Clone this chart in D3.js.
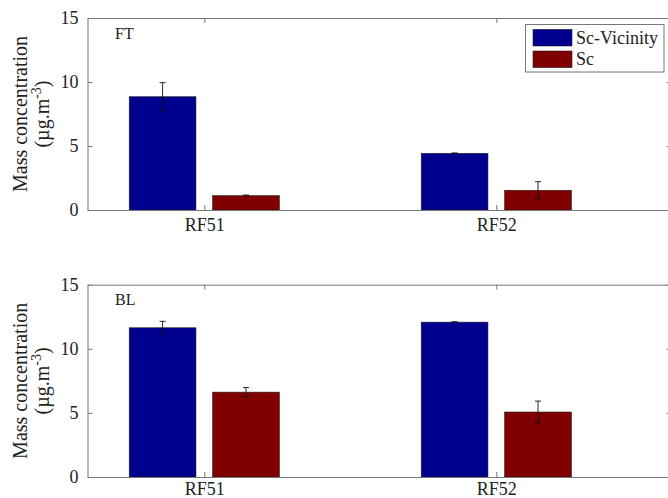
<!DOCTYPE html>
<html><head><meta charset="utf-8">
<script src="https://cdn.jsdelivr.net/npm/d3@7"></script>
<style>
html,body{margin:0;padding:0;background:#fff;}
svg text{font-family:"Liberation Serif","Times New Roman",serif;fill:#222;}
</style></head>
<body>
<svg id="chart" width="668" height="498"></svg>
<script>
const categories = ["RF51", "RF52"];
const series = ["Sc-Vicinity", "Sc"];
const panels = ["FT", "BL"];
const ftVicinity = [8.85, 4.43];
const ftSc = [1.12, 1.54];
const ftVicinityErr = [1.1, 0.03];
const ftScErr = [0.05, 0.67];
const blVicinity = [11.64, 12.08];
const blSc = [6.62, 5.07];
const blVicinityErr = [0.5, 0.03];
const blScErr = [0.35, 0.85];
const yTicks = [0, 5, 10, 15];
const colors = ["#00008f", "#800000"];

const panelData = [
  {name: panels[0], vals: [ftVicinity, ftSc], errs: [ftVicinityErr, ftScErr]},
  {name: panels[1], vals: [blVicinity, blSc], errs: [blVicinityErr, blScErr]}
];

const FONT = '"Liberation Serif","Times New Roman",serif';
const svg = d3.select("#chart");
const x = d3.scaleLinear().domain([0.6, 2.6]).range([87.5, 671.5]);
const groupW = series.length / (series.length + 1.5);
const xs = d3.scaleBand().domain(series).range([-groupW / 2, groupW / 2]).paddingInner(0.2).paddingOuter(0.1);

const layouts = [{top: 18, bottom: 210, pad: 8}, {top: 284.7, bottom: 477, pad: 5}];
const axisColor = "#777";

panelData.forEach((p, pi) => {
  const L = layouts[pi];
  const y = d3.scaleLinear().domain([0, 15]).range([L.bottom, L.top]);
  const g = svg.append("g");
  const left = x.range()[0], right = x.range()[1];

  series.forEach((s, si) => {
    categories.forEach((c, ci) => {
      const cx = ci + 1;
      const x0 = x(cx + xs(s)), x1 = x(cx + xs(s) + xs.bandwidth());
      const v = p.vals[si][ci];
      g.append("rect")
        .attr("x", x0).attr("y", y(v))
        .attr("width", x1 - x0).attr("height", y(0) - y(v))
        .attr("fill", colors[si]).attr("stroke", "#222").attr("stroke-width", 0.6);
    });
  });
  series.forEach((s, si) => {
    categories.forEach((c, ci) => {
      const cx = ci + 1 + xs(s) + xs.bandwidth() / 2;
      const px = x(cx);
      const v = p.vals[si][ci], e = p.errs[si][ci];
      const ey = g.append("g").attr("stroke", "#111").attr("stroke-width", 0.9);
      ey.append("line").attr("x1", px).attr("x2", px).attr("y1", y(v - e)).attr("y2", y(v + e));
      ey.append("line").attr("x1", px - 3).attr("x2", px + 3).attr("y1", y(v - e)).attr("y2", y(v - e));
      ey.append("line").attr("x1", px - 3).attr("x2", px + 3).attr("y1", y(v + e)).attr("y2", y(v + e));
    });
  });

  const yAxisL = d3.axisLeft(y).tickValues(yTicks).tickSizeInner(-5).tickSizeOuter(0).tickPadding(9);
  const gl = g.append("g").attr("transform", `translate(${left},0)`).call(yAxisL);
  gl.attr("font-family", FONT);
  gl.selectAll("text").style("font-size", "18px").attr("fill", "#222");
  const yAxisR = d3.axisRight(y).tickValues(yTicks).tickSizeInner(-5).tickSizeOuter(0).tickFormat("");
  g.append("g").attr("transform", `translate(${right},0)`).call(yAxisR);
  const xAxisB = d3.axisBottom(x).tickValues([1, 2]).tickFormat((d) => categories[d - 1]).tickSizeInner(-5).tickSizeOuter(0).tickPadding(L.pad);
  const gb = g.append("g").attr("transform", `translate(0,${L.bottom})`).call(xAxisB);
  gb.attr("font-family", FONT);
  gb.selectAll("text").style("font-size", "18px").attr("fill", "#222");
  const xAxisT = d3.axisTop(x).tickValues([1, 2]).tickFormat("").tickSizeInner(-5).tickSizeOuter(0);
  g.append("g").attr("transform", `translate(0,${L.top})`).call(xAxisT);
  g.selectAll(".domain, .tick line").attr("stroke", axisColor).attr("stroke-width", 1);

  g.append("text").attr("x", 115).attr("y", L.top + 20.6).style("font-size", "16px").text(p.name);

  const mid = (L.top + L.bottom) / 2;
  g.append("text").attr("transform", `translate(27,${mid}) rotate(-90)`)
    .attr("text-anchor", "middle").style("font-size", "20px").text("Mass concentration");
  const t2 = g.append("text").attr("transform", `translate(49,${mid}) rotate(-90)`)
    .attr("text-anchor", "middle").style("font-size", "20px");
  t2.append("tspan").text("(µg.m");
  t2.append("tspan").attr("dy", -8).style("font-size", "14px").text("-3");
  t2.append("tspan").attr("dy", 8).text(")");
});

const lg = svg.append("g");
lg.append("rect").attr("x", 525.5).attr("y", 24.5).attr("width", 138.5).attr("height", 47.5)
  .attr("fill", "#fff").attr("stroke", "#777").attr("stroke-width", 1);
series.forEach((s, si) => {
  const cy = 37.7 + si * 21.6;
  lg.append("rect").attr("x", 533).attr("y", cy - 8.3).attr("width", 39).attr("height", 16.6)
    .attr("fill", colors[si]).attr("stroke", "#222").attr("stroke-width", 0.6);
  lg.append("text").attr("x", 576).attr("y", cy + 6).style("font-size", "18px").text(s);
});
</script>
</body></html>
